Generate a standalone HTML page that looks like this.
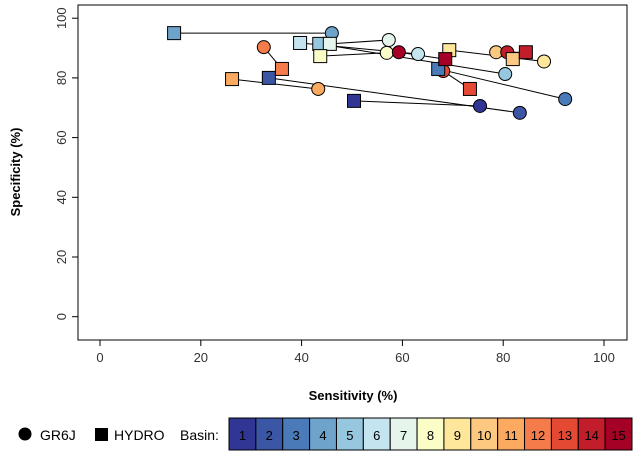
<!DOCTYPE html>
<html><head><meta charset="utf-8"><style>
body{margin:0;background:#fff;font-family:"Liberation Sans",Arial,sans-serif}
svg text{font-family:"Liberation Sans",Arial,sans-serif}
</style></head><body>
<svg id="chart" width="643" height="458" xmlns="http://www.w3.org/2000/svg">
<rect x="78" y="5" width="549" height="335" fill="none" stroke="#000" stroke-width="1"/>
<g id="axes"></g><g id="lines"></g><g id="circles"></g><g id="squares"></g>
<text x="353" y="400" font-size="13" font-weight="bold" text-anchor="middle">Sensitivity (%)</text>
<text transform="translate(20,172) rotate(-90)" font-size="13" font-weight="bold" text-anchor="middle">Specificity (%)</text>
<g>
<circle cx="25" cy="434" r="6.5" fill="#000"/>
<text x="40" y="440" font-size="14">GR6J</text>
<rect x="95" y="428" width="13" height="13" fill="#000"/>
<text x="114" y="440" font-size="14">HYDRO</text>
<text x="180" y="440" font-size="14">Basin:</text>
<g id="basinLegend"></g>
</g>
</svg>
<script>
const basins=[1,2,3,4,5,6,7,8,9,10,11,12,13,14,15];
const gr6jSens=[75.4,83.3,92.3,46.0,80.4,63.1,57.3,56.9,88.1,78.6,43.3,32.5,68.1,80.8,59.3];
const gr6jSpec=[70.6,68.3,72.9,95.0,81.3,88.0,92.7,88.4,85.5,88.6,76.3,90.3,82.3,88.6,88.6];
const hydroSens=[50.4,33.5,67.1,14.7,43.5,39.7,45.6,43.7,69.3,81.9,26.2,36.1,73.4,84.5,68.5];
const hydroSpec=[72.3,80.0,83.0,95.0,91.4,91.7,91.4,87.3,89.3,86.3,79.6,83.0,76.3,88.6,86.3];
const xTicks=[0,20,40,60,80,100];
const yTicks=[0,20,40,60,80,100];
const colors=["#313695","#3b56a5","#4a7ab7","#6ea3cc","#97c6df","#c4e5f0","#e6f5ec","#fbfdc7","#fee79b","#fdc981","#fcaa5f","#f57c4a","#e34933","#c21d2a","#a50026"];
const NS="http://www.w3.org/2000/svg";
const sx=v=>100+v*5.04, sy=v=>316.7-v*2.985;
function mk(t,a,p){const e=document.createElementNS(NS,t);for(const k in a)e.setAttribute(k,a[k]);p.appendChild(e);return e;}
const axes=document.getElementById('axes');
xTicks.forEach(v=>{
 const l=mk('line',{x1:sx(v),x2:sx(v),y1:340,y2:346,stroke:'#000'},axes);
 
 
 const t=mk('text',{x:sx(v),y:362,'font-size':13,'text-anchor':'middle',fill:'#333'},axes);t.textContent=v;
 
 
});
yTicks.forEach(v=>{
 const l=mk('line',{x1:72,x2:78,y1:sy(v),y2:sy(v),stroke:'#000'},axes);
 
 
 const t=mk('text',{transform:`translate(66,${sy(v)}) rotate(-90)`,'font-size':13,'text-anchor':'middle',fill:'#333'},axes);t.textContent=v;
 
 
});
const lines=document.getElementById('lines'),circles=document.getElementById('circles'),squares=document.getElementById('squares');
basins.forEach((b,i)=>{
 const l=mk('line',{x1:sx(gr6jSens[i]),y1:sy(gr6jSpec[i]),x2:sx(hydroSens[i]),y2:sy(hydroSpec[i]),stroke:'#000','stroke-width':1},lines);
 
 
 const c=mk('circle',{cx:sx(gr6jSens[i]),cy:sy(gr6jSpec[i]),r:6.5,fill:colors[i],stroke:'#000','stroke-width':1},circles);
 
 
 const r=mk('rect',{x:sx(hydroSens[i])-6.5,y:sy(hydroSpec[i])-6.5,width:13,height:13,fill:colors[i],stroke:'#000','stroke-width':1},squares);
 
 
});
const bl=document.getElementById('basinLegend');
basins.forEach((b,i)=>{
 const w=403/15,x=229+i*w;
 const r=mk('rect',{x:x,y:418,width:w,height:32,fill:colors[i],stroke:'#000','stroke-width':1},bl);
 
 
 const t=mk('text',{x:x+w/2,y:440,'font-size':13,'text-anchor':'middle',fill:'#000'},bl);t.textContent=b;
 
 
});
</script>
</body></html>
